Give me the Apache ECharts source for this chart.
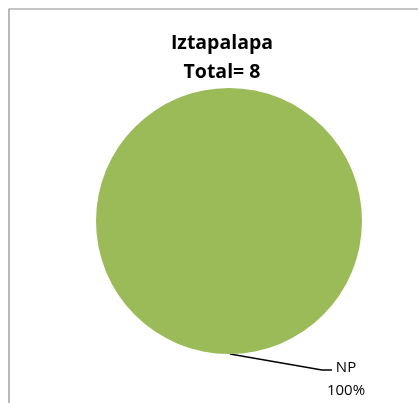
<!DOCTYPE html>
<html>
<head>
<meta charset="utf-8">
<script src="https://cdn.jsdelivr.net/npm/echarts@6/dist/echarts.min.js"></script>
<style>
html,body{margin:0;padding:0;background:#fff;}
#chart{width:418px;height:403px;}
</style>
</head>
<body>
<div id="chart"></div>
<script>
var titleLines = ['Iztapalapa', 'Total= 8'];
var categories = ['NP'];
var values = [8];
var colors = ['#9BBB59'];

var chart = echarts.init(document.getElementById('chart'), null, {renderer: 'canvas'});
var option = {
  backgroundColor: '#ffffff',
  animation: false,
  title: {
    text: titleLines.join('\n'),
    left: 217,
    top: 24,
    textAlign: 'center',
    textStyle: {
      fontFamily: 'Open Sans',
      fontWeight: 'bold',
      fontSize: 19.5,
      lineHeight: 29,
      color: '#000000'
    }
  },
  graphic: [{
    type: 'rect',
    shape: {x: 9, y: 9, width: 430, height: 430},
    style: {fill: 'none', stroke: '#8c8c8c', lineWidth: 1.2},
    silent: true,
    z: 0
  }],
  series: [{
    type: 'pie',
    center: [229, 221],
    radius: 133,
    startAngle: 90,
    silent: true,
    data: categories.map(function (c, i) {
      return {name: c, value: values[i], itemStyle: {color: colors[i]}};
    }),
    itemStyle: {borderWidth: 0},
    label: {
      show: true,
      position: 'outside',
      formatter: '{b}\n{d}%',
      fontFamily: 'Open Sans',
      fontSize: 15,
      lineHeight: 23,
      color: '#000000',
      align: 'center'
    },
    labelLine: {
      show: true,
      lineStyle: {color: '#000000', width: 1.3}
    },
    labelLayout: function (params) {
      return {
        x: 346,
        y: 379,
        align: 'center',
        verticalAlign: 'middle',
        labelLinePoints: [[230, 354], [322, 370], [332, 370]]
      };
    }
  }]
};
chart.setOption(option);
</script>
</body>
</html>
